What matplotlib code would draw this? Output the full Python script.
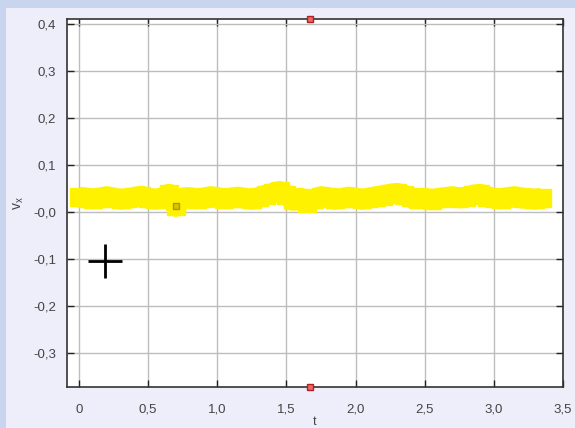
import matplotlib
matplotlib.use("Agg")
import matplotlib.pyplot as plt
from matplotlib.patches import Rectangle

plt.rcParams['font.family'] = ['Liberation Sans', 'DejaVu Sans']

# --- data ---
t = [0.00, 0.05, 0.10, 0.15, 0.20, 0.25, 0.30, 0.35, 0.40, 0.45,
     0.50, 0.55, 0.60, 0.65, 0.70, 0.75, 0.80, 0.85, 0.90, 0.95,
     1.00, 1.05, 1.10, 1.15, 1.20, 1.25, 1.30, 1.35, 1.40, 1.45,
     1.50, 1.55, 1.60, 1.65, 1.70, 1.75, 1.80, 1.85, 1.90, 1.95,
     2.00, 2.05, 2.10, 2.15, 2.20, 2.25, 2.30, 2.35, 2.40, 2.45,
     2.50, 2.55, 2.60, 2.65, 2.70, 2.75, 2.80, 2.85, 2.90, 2.95,
     3.00, 3.05, 3.10, 3.15, 3.20, 3.25, 3.30, 3.35]
vx = [0.032, 0.030, 0.028, 0.030, 0.033, 0.030, 0.027, 0.029, 0.031, 0.034,
      0.030, 0.027, 0.030, 0.038, 0.012, 0.030, 0.031, 0.028, 0.030, 0.033,
      0.031, 0.028, 0.030, 0.032, 0.029, 0.027, 0.031, 0.036, 0.040, 0.044,
      0.036, 0.025, 0.030, 0.020, 0.028, 0.033, 0.031, 0.027, 0.029, 0.032,
      0.030, 0.027, 0.030, 0.033, 0.035, 0.038, 0.040, 0.036, 0.031, 0.028,
      0.030, 0.026, 0.029, 0.031, 0.033, 0.030, 0.032, 0.036, 0.038, 0.033,
      0.030, 0.028, 0.031, 0.033, 0.030, 0.029, 0.027, 0.030]
cursor_t = [1.667]
cursor_top = [0.410]
cursor_bottom = [-0.372]
cross_t = [0.19]
cross_v = [-0.105]
xticks = [0, 0.5, 1.0, 1.5, 2.0, 2.5, 3.0, 3.5]
xticklabels = ['0', '0,5', '1,0', '1,5', '2,0', '2,5', '3,0', '3,5']
yticks = [0.4, 0.3, 0.2, 0.1, 0.0, -0.1, -0.2, -0.3]
yticklabels = ['0,4', '0,3', '0,2', '0,1', '-0,0', '-0,1', '-0,2', '-0,3']

W, H = 575, 428
fig = plt.figure(figsize=(W / 100, H / 100), dpi=100)
fig.patch.set_facecolor('#c9d5ef')
panel = Rectangle((6 / W, 0), 1 - 6 / W, 1 - 8 / H,
                  transform=fig.transFigure, facecolor='#eeeefb',
                  edgecolor='none', zorder=-10)
fig.add_artist(panel)

ax = fig.add_axes([67 / W, 1 - 387 / H, (563 - 67) / W, (387 - 19) / H])
ax.set_zorder(5)
ax.set_facecolor('white')
ax.set_xlim(-0.087, 3.5)
ax.set_ylim(-0.372, 0.4106)

ax.set_xticks(xticks)
ax.set_xticklabels(xticklabels)
ax.set_yticks(yticks)
ax.set_yticklabels(yticklabels)
ax.grid(True, color='#bdbdbd', linewidth=1.0)
ax.set_axisbelow(True)
ax.tick_params(direction='in', length=5, width=1, color='#222222',
               top=True, right=True, labelsize=9.5, labelcolor='#444444')
ax.tick_params(axis='y', pad=8)
ax.tick_params(axis='x', pad=12)
for s in ax.spines.values():
    s.set_color('#333333')
    s.set_linewidth(1.2)

ax.plot(t, vx, color='#fff200', linewidth=15, solid_capstyle='butt',
        solid_joinstyle='round',
        marker='s', markersize=13, markerfacecolor='#fff200',
        markeredgecolor='#fff200', zorder=3)
ax.plot(t[14:15], vx[14:15], linestyle='none', marker='s', markersize=5,
        markerfacecolor='#e0c000', markeredgecolor='#b09a00', zorder=4)

ax.plot(cursor_t, cursor_top, linestyle='none', marker='s', markersize=5,
        markerfacecolor='#ee6666', markeredgecolor='#b02020', clip_on=False, zorder=5)
ax.plot(cursor_t, cursor_bottom, linestyle='none', marker='s', markersize=5,
        markerfacecolor='#ee6666', markeredgecolor='#b02020', clip_on=False, zorder=5)

ax.plot(cross_t, cross_v, linestyle='none', marker='+', markersize=25,
        markeredgewidth=2, color='black', zorder=5)

ax.set_xlabel('t', fontsize=9, color='#444444', labelpad=0)
ax.set_ylabel(r'v$_\mathregular{x}$', fontsize=10, color='#444444', labelpad=5)

fig.savefig('out.png', dpi=100, facecolor=fig.get_facecolor())
